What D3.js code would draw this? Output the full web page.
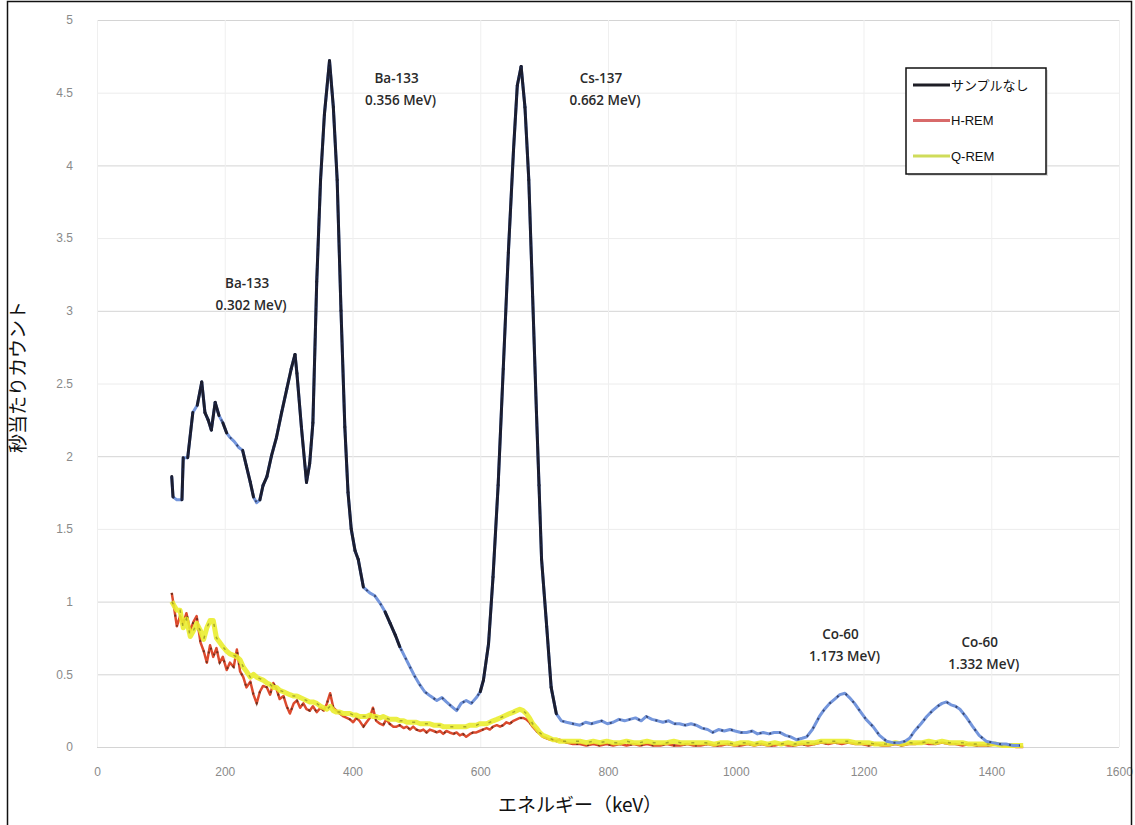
<!DOCTYPE html>
<html>
<head>
<meta charset="utf-8">
<script src="https://cdn.jsdelivr.net/npm/d3@7/dist/d3.min.js"></script>
<style>
    body { margin: 0; background: #fff; }
    #graph { width: 1135px; height: 825px; }
</style>
</head>
<body>
<div id="graph"></div>
<script>
"use strict";

// spectrum: [keV, counts per second]
var noSample = [
    [117,1.86],[119,1.72],[125,1.70],[133,1.70],[135,1.99],[142,1.99],[150,2.30],[157,2.35],[164,2.51],[169,2.30],
    [174,2.25],[179,2.18],[185,2.37],[191,2.28],[197,2.23],[203,2.16],[208,2.13],[215,2.10],[222,2.06],[228,2.04],
    [234,1.93],[240,1.82],[245,1.72],[250,1.68],[255,1.70],[260,1.80],[266,1.86],[273,2.00],[281,2.13],[289,2.30],
    [297,2.46],[304,2.60],[310,2.70],[313,2.57],[320,2.20],[328,1.82],[333,1.95],[338,2.23],[344,3.20],[350,3.90],
    [356,4.35],[364,4.72],[370,4.40],[376,3.90],[382,3.00],[388,2.20],[393,1.75],[398,1.50],[404,1.35],[409,1.29],
    [417,1.10],[427,1.06],[435,1.04],[443,0.99],[451,0.93],[459,0.85],[467,0.77],[474,0.69],[482,0.62],[490,0.55],
    [497,0.49],[505,0.43],[513,0.38],[522,0.35],[532,0.32],[540,0.34],[547,0.31],[555,0.28],[563,0.25],[570,0.30],
    [578,0.32],[586,0.30],[594,0.34],[600,0.38],[605,0.46],[613,0.71],[620,1.17],[628,1.80],[636,2.60],[644,3.40],
    [652,4.10],[658,4.55],[664,4.68],[670,4.40],[676,3.90],[682,3.10],[688,2.30],[692,1.80],[696,1.29],[704,0.83],
    [711,0.41],[719,0.23],[727,0.18],[735,0.17],[745,0.16],[756,0.15],[765,0.17],[774,0.16],[782,0.17],[790,0.18],
    [799,0.16],[808,0.17],[817,0.19],[826,0.18],[834,0.19],[843,0.20],[852,0.18],[860,0.21],[869,0.19],[878,0.18],
    [886,0.17],[895,0.18],[904,0.16],[912,0.16],[921,0.15],[930,0.16],[938,0.15],[947,0.13],[956,0.12],[964,0.10],
    [973,0.12],[982,0.11],[991,0.12],[999,0.11],[1008,0.10],[1017,0.10],[1026,0.11],[1034,0.09],[1043,0.10],[1052,0.09],
    [1060,0.10],[1069,0.10],[1078,0.08],[1086,0.07],[1095,0.05],[1104,0.06],[1111,0.07],[1120,0.12],[1131,0.21],[1139,0.26],
    [1147,0.30],[1155,0.33],[1163,0.36],[1171,0.37],[1178,0.34],[1186,0.30],[1194,0.25],[1204,0.19],[1215,0.14],[1225,0.08],
    [1236,0.04],[1246,0.03],[1257,0.03],[1265,0.04],[1272,0.06],[1280,0.11],[1290,0.16],[1299,0.21],[1308,0.25],[1316,0.28],
    [1323,0.30],[1330,0.31],[1337,0.29],[1344,0.28],[1351,0.26],[1360,0.21],[1371,0.14],[1381,0.08],[1392,0.04],[1402,0.03],
    [1413,0.02],[1423,0.02],[1434,0.01],[1445,0.01]
];

var hRem = [
    [117,1.06],[121,0.95],[125,0.83],[130,0.90],[135,0.85],[140,0.92],[146,0.80],[151,0.86],[156,0.90],[162,0.72],
    [167,0.66],[172,0.58],[177,0.70],[182,0.62],[187,0.68],[192,0.58],[197,0.62],[203,0.53],[208,0.58],[214,0.55],
    [219,0.67],[224,0.52],[229,0.48],[234,0.41],[240,0.45],[245,0.36],[250,0.30],[255,0.38],[260,0.42],[266,0.41],
    [271,0.36],[276,0.44],[281,0.40],[286,0.33],[292,0.35],[297,0.28],[302,0.23],[308,0.30],[313,0.32],[318,0.27],
    [323,0.30],[328,0.26],[333,0.25],[338,0.28],[344,0.24],[350,0.27],[355,0.25],[360,0.30],[365,0.37],[370,0.27],
    [375,0.25],[380,0.23],[386,0.21],[391,0.20],[396,0.19],[401,0.17],[406,0.20],[411,0.18],[417,0.14],[422,0.17],
    [427,0.20],[432,0.27],[437,0.18],[443,0.16],[448,0.15],[453,0.19],[458,0.16],[464,0.14],[469,0.14],[474,0.15],
    [480,0.13],[485,0.14],[490,0.12],[495,0.14],[500,0.12],[506,0.11],[511,0.12],[516,0.10],[521,0.12],[527,0.11],
    [532,0.10],[537,0.11],[542,0.09],[547,0.11],[552,0.10],[558,0.09],[563,0.10],[568,0.08],[573,0.09],[578,0.07],
    [584,0.09],[589,0.10],[594,0.10],[599,0.11],[604,0.12],[610,0.13],[615,0.12],[620,0.14],[626,0.15],[631,0.14],
    [636,0.15],[641,0.17],[646,0.16],[652,0.18],[657,0.19],[662,0.20],[667,0.20],[672,0.19],[677,0.17],[682,0.14],
    [688,0.11],[693,0.09],[698,0.07],[704,0.06],[709,0.05],[714,0.05],[719,0.04],[724,0.05],[735,0.03],[745,0.02],
    [756,0.02],[766,0.01],[777,0.02],[787,0.01],[798,0.02],[808,0.01],[819,0.02],[829,0.01],[840,0.02],[850,0.01],
    [861,0.02],[871,0.01],[882,0.01],[892,0.02],[903,0.01],[913,0.01],[924,0.02],[934,0.01],[945,0.01],[956,0.02],
    [966,0.01],[977,0.01],[987,0.02],[998,0.01],[1008,0.01],[1019,0.02],[1029,0.01],[1040,0.02],[1050,0.01],[1061,0.01],
    [1071,0.02],[1082,0.01],[1092,0.01],[1103,0.02],[1113,0.01],[1124,0.02],[1134,0.03],[1145,0.02],[1155,0.03],[1166,0.02],
    [1176,0.03],[1187,0.02],[1197,0.02],[1208,0.01],[1218,0.02],[1229,0.01],[1239,0.01],[1250,0.02],[1260,0.01],[1271,0.02],
    [1281,0.02],[1292,0.03],[1302,0.02],[1313,0.02],[1323,0.03],[1334,0.02],[1344,0.02],[1355,0.01],[1365,0.02],[1376,0.01],
    [1386,0.01],[1397,0.01],[1407,0.02],[1418,0.01],[1428,0.01],[1439,0.00],[1450,0.00]
];

var qRem = [
    [117,1.00],[121,0.97],[125,0.94],[130,0.94],[135,0.82],[140,0.88],[146,0.76],[151,0.80],[156,0.85],[162,0.80],
    [167,0.74],[172,0.82],[177,0.87],[182,0.87],[187,0.75],[192,0.72],[197,0.69],[203,0.66],[208,0.64],[214,0.63],
    [219,0.62],[224,0.60],[229,0.55],[234,0.52],[240,0.48],[245,0.50],[250,0.48],[255,0.47],[260,0.46],[266,0.44],
    [271,0.43],[276,0.41],[281,0.41],[286,0.39],[292,0.38],[297,0.37],[302,0.36],[308,0.35],[313,0.35],[318,0.34],
    [323,0.33],[328,0.32],[333,0.31],[338,0.31],[344,0.30],[350,0.28],[355,0.27],[360,0.26],[365,0.28],[370,0.25],
    [375,0.24],[380,0.24],[386,0.23],[391,0.23],[396,0.23],[401,0.22],[406,0.22],[411,0.21],[417,0.21],[422,0.21],
    [427,0.22],[432,0.21],[437,0.21],[443,0.20],[448,0.21],[453,0.20],[458,0.19],[464,0.19],[469,0.19],[474,0.18],
    [480,0.18],[485,0.17],[490,0.17],[495,0.17],[500,0.17],[506,0.16],[511,0.16],[516,0.16],[521,0.16],[527,0.15],
    [532,0.15],[537,0.15],[542,0.14],[547,0.14],[552,0.14],[558,0.14],[563,0.14],[568,0.14],[573,0.14],[578,0.14],
    [584,0.15],[589,0.15],[594,0.15],[599,0.16],[604,0.16],[610,0.16],[615,0.17],[620,0.18],[626,0.19],[631,0.20],
    [636,0.21],[641,0.22],[646,0.23],[652,0.24],[657,0.25],[662,0.26],[667,0.25],[672,0.23],[677,0.20],[682,0.16],
    [688,0.13],[693,0.10],[698,0.08],[704,0.07],[709,0.06],[714,0.05],[719,0.05],[724,0.04],[735,0.04],[745,0.04],
    [756,0.04],[766,0.03],[777,0.04],[787,0.03],[798,0.04],[808,0.03],[819,0.03],[829,0.04],[840,0.03],[850,0.03],
    [861,0.04],[871,0.03],[882,0.03],[892,0.03],[903,0.04],[913,0.03],[924,0.03],[934,0.03],[945,0.03],[956,0.03],
    [966,0.02],[977,0.03],[987,0.03],[998,0.02],[1008,0.03],[1019,0.03],[1029,0.02],[1040,0.03],[1050,0.02],[1061,0.03],
    [1071,0.02],[1082,0.03],[1092,0.02],[1103,0.03],[1113,0.03],[1124,0.03],[1134,0.04],[1145,0.04],[1155,0.04],[1166,0.04],
    [1176,0.04],[1187,0.03],[1197,0.03],[1208,0.03],[1218,0.02],[1229,0.02],[1239,0.02],[1250,0.03],[1260,0.02],[1271,0.03],
    [1281,0.03],[1292,0.03],[1302,0.04],[1313,0.03],[1323,0.04],[1334,0.03],[1344,0.03],[1355,0.03],[1365,0.02],[1376,0.02],
    [1386,0.02],[1397,0.02],[1407,0.02],[1418,0.01],[1428,0.01],[1439,0.01],[1450,0.01]
];

var seriesNames = ["サンプルなし", "H-REM", "Q-REM"];
var xTicks = [0, 200, 400, 600, 800, 1000, 1200, 1400, 1600];
var yTicks = [0, 0.5, 1, 1.5, 2, 2.5, 3, 3.5, 4, 4.5, 5];
var peakNuclides = ["Ba-133", "Ba-133", "Cs-137", "Co-60", "Co-60"];
var peakEnergies = ["0.302 MeV)", "0.356 MeV)", "0.662 MeV)", "1.173 MeV)", "1.332 MeV)"];
var xTitle = "エネルギー（keV）";
var yTitle = "秒当たりカウント";

var width = 1135, height = 825;
var margin = {top: 20, right: 16, bottom: 78, left: 97};

var svg = d3.select("#graph").append("svg")
    .attr("width", width)
    .attr("height", height);

var x = d3.scaleLinear().domain([0, 1600]).range([0, 1022]);
var y = d3.scaleLinear().domain([0, 5]).range([727, 0]);

var chartLayer = svg.append("g")
    .attr("transform", "translate(" + [margin.left, margin.top] + ")");

// outer frame of the scanned figure
svg.append("rect")
    .attr("x", 7.5).attr("y", 1.5)
    .attr("width", 1124).attr("height", 830)
    .attr("fill", "none")
    .attr("stroke", "#111")
    .attr("stroke-width", 1.5);

drawGrid();
drawSeries();
drawAxes();
drawLabels();
drawLegend();

function drawGrid() {
    chartLayer.append("g")
        .selectAll("line")
        .data(yTicks)
        .enter().append("line")
        .attr("x1", 0).attr("x2", x(1600))
        .attr("y1", function (d) { return y(d) + 0.5; })
        .attr("y2", function (d) { return y(d) + 0.5; })
        .attr("stroke", function (d) { return d % 1 === 0 || d === 0.5 ? "#d4d4d4" : "#ececec"; })
        .attr("stroke-width", 1);

    chartLayer.append("g")
        .selectAll("line")
        .data(xTicks)
        .enter().append("line")
        .attr("x1", function (d) { return x(d) + 0.5; })
        .attr("x2", function (d) { return x(d) + 0.5; })
        .attr("y1", 0).attr("y2", y(0))
        .attr("stroke", "#efefef")
        .attr("stroke-width", 1);
}

function drawAxes() {
    var xAxis = d3.axisBottom(x).tickValues(xTicks).tickSize(0).tickPadding(20)
        .tickFormat(function (d) { return String(d); });
    var yAxis = d3.axisLeft(y).tickValues(yTicks).tickSize(0).tickPadding(24)
        .tickFormat(function (d) { return String(d); });

    var gx = chartLayer.append("g")
        .attr("transform", "translate(0," + y(0) + ")")
        .call(xAxis);
    var gy = chartLayer.append("g").call(yAxis);

    [gx, gy].forEach(function (g) {
        g.select(".domain").remove();
        g.selectAll("text")
            .attr("fill", "#8a8a8a")
            .style("font-family", "'Liberation Sans Narrow', 'Liberation Sans', Arial, sans-serif")
            .style("font-size", "12px");
    });

    svg.append("text")
        .attr("x", 580).attr("y", 812)
        .attr("text-anchor", "middle")
        .style("font-family", "'Noto Sans CJK JP', sans-serif")
        .style("font-size", "19px")
        .attr("fill", "#111")
        .text(xTitle);

    svg.append("text")
        .attr("transform", "translate(25,377) rotate(-90)")
        .attr("text-anchor", "middle")
        .style("font-family", "'Noto Sans CJK JP', sans-serif")
        .style("font-size", "19px")
        .attr("fill", "#111")
        .text(yTitle);
}

function drawSeries() {
    var line = d3.line()
        .x(function (d) { return x(d[0]); })
        .y(function (d) { return y(d[1]); });

    // H-REM
    chartLayer.append("path")
        .datum(hRem)
        .attr("d", line)
        .attr("fill", "none")
        .attr("stroke", "#dc4a2e")
        .attr("stroke-width", 2.5)
        .attr("stroke-linejoin", "round");
    chartLayer.append("path")
        .datum(hRem)
        .attr("d", line)
        .attr("fill", "none")
        .attr("stroke", "#5a2a1a")
        .attr("stroke-width", 2)
        .attr("stroke-dasharray", "2,9")
        .attr("opacity", 0.8);

    // Q-REM
    chartLayer.append("path")
        .datum(qRem)
        .attr("d", line)
        .attr("fill", "none")
        .attr("stroke", "#eaed2f")
        .attr("stroke-width", 5)
        .attr("stroke-linejoin", "round")
        .attr("opacity", 0.9);
    chartLayer.append("path")
        .datum(qRem)
        .attr("d", line)
        .attr("fill", "none")
        .attr("stroke", "#8a8a20")
        .attr("stroke-width", 1.5)
        .attr("stroke-dasharray", "3,10")
        .attr("opacity", 0.7);

    // no sample: blue trace, dark where the scan darkened the steep parts
    chartLayer.append("path")
        .datum(noSample)
        .attr("d", line)
        .attr("fill", "none")
        .attr("stroke", "#7496dc")
        .attr("stroke-width", 3)
        .attr("stroke-linejoin", "round");

    var steep = d3.pairs(noSample).filter(function (p) {
        var dx = Math.abs(x(p[1][0]) - x(p[0][0]));
        var dy = Math.abs(y(p[1][1]) - y(p[0][1]));
        return dy > 2 * dx;
    });
    chartLayer.append("g")
        .selectAll("line")
        .data(steep)
        .enter().append("line")
        .attr("x1", function (p) { return x(p[0][0]); })
        .attr("y1", function (p) { return y(p[0][1]); })
        .attr("x2", function (p) { return x(p[1][0]); })
        .attr("y2", function (p) { return y(p[1][1]); })
        .attr("stroke", "#1b1d2e")
        .attr("stroke-width", 3)
        .attr("stroke-linecap", "round");

    chartLayer.append("path")
        .datum(noSample)
        .attr("d", line)
        .attr("fill", "none")
        .attr("stroke", "#20284a")
        .attr("stroke-width", 2)
        .attr("stroke-dasharray", "2,8")
        .attr("opacity", 0.7);
}

function drawLabels() {
    // label anchors in data units: [keV, counts] of first line baseline
    var anchors = [[235, 3.16], [469, 4.57], [789, 4.57], [1164, 0.74], [1382, 0.69]];
    var g = chartLayer.append("g")
        .style("font-family", "'Open Sans', 'Liberation Sans', sans-serif")
        .style("font-size", "13.5px")
        .style("font-weight", "600")
        .attr("fill", "#2a2a2a")
        .attr("text-anchor", "middle");

    anchors.forEach(function (a, i) {
        var t = g.append("text")
            .attr("x", x(a[0]))
            .attr("y", y(a[1]));
        t.append("tspan").attr("x", x(a[0])).text(peakNuclides[i]);
        t.append("tspan").attr("x", x(a[0]) + 4).attr("dy", 22).text(peakEnergies[i]);
    });
}

function drawLegend() {
    var colors = ["#1e1e26", "#d86a6a", "#cfdc5a"];
    var legend = svg.append("g").attr("transform", "translate(906,68)");

    legend.append("rect")
        .attr("x", 2).attr("y", 2)
        .attr("width", 140).attr("height", 106)
        .attr("fill", "#bbb").attr("opacity", 0.5);
    legend.append("rect")
        .attr("width", 140).attr("height", 106)
        .attr("fill", "#fff")
        .attr("stroke", "#111")
        .attr("stroke-width", 1.5);

    var item = legend.selectAll("g")
        .data(seriesNames)
        .enter().append("g")
        .attr("transform", function (d, i) { return "translate(0," + (17 + i * 35.5) + ")"; });

    item.append("line")
        .attr("x1", 7).attr("x2", 44)
        .attr("stroke", function (d, i) { return colors[i]; })
        .attr("stroke-width", 3);

    item.append("text")
        .attr("x", 45).attr("dy", "0.35em")
        .style("font-family", "'Liberation Sans', 'Noto Sans CJK JP', sans-serif")
        .style("font-size", "13px")
        .attr("fill", "#111")
        .text(function (d) { return d; });
}
</script>
</body>
</html>
